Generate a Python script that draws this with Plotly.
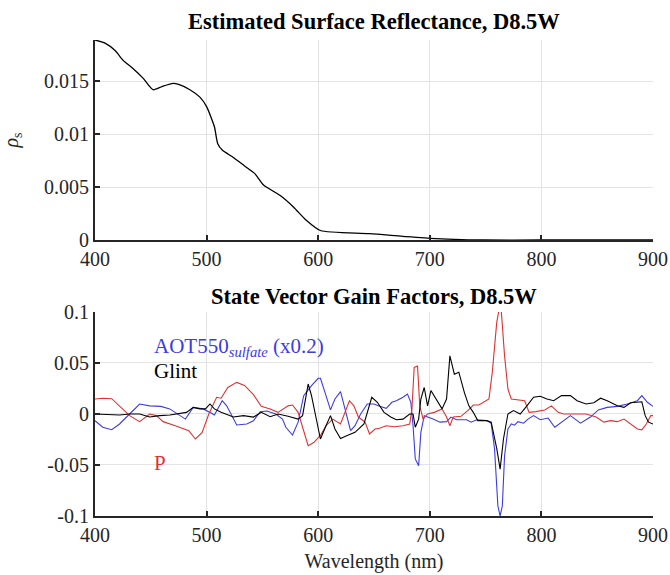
import plotly.graph_objects as go
from plotly.subplots import make_subplots

# ---- Top panel: estimated surface reflectance ----
wl_refl = [400, 409, 418, 425, 434, 443, 452, 460, 470, 475, 485, 494, 500, 507, 510, 514,
           524, 534, 543, 551, 566, 578, 589, 602, 646, 700, 748, 800, 900]
refl = [0.0189, 0.0186, 0.0179, 0.0170, 0.0162, 0.0153, 0.0142, 0.0145, 0.0148, 0.0147,
        0.0142, 0.0135, 0.0126, 0.0107, 0.0091, 0.0085, 0.0078, 0.0070, 0.0063, 0.0052,
        0.0042, 0.0031, 0.0019, 0.0009, 0.0006, 0.00016, 0.0, 0.0, 0.0]

# ---- Bottom panel: state vector gain factors ----
wl_aot = [400, 407, 415, 422, 431, 440, 449, 459, 467, 475, 481, 488, 497, 504, 507, 514, 518,
          527, 536, 542, 548, 554, 562, 568, 571, 577, 582, 587, 594, 600, 602, 607, 611, 615,
          620, 624, 629, 633, 638, 644, 650, 655, 661, 666, 670, 676, 680, 683, 685, 687, 690,
          692, 695, 703, 709, 715, 719, 724, 733, 737, 742, 751, 755, 758, 761, 763, 765, 767,
          770, 773, 776, 779, 784, 788, 793, 799, 806, 812, 818, 826, 835, 844, 851, 859, 868,
          877, 886, 890, 895, 900]
aot = [-0.0066, -0.013, -0.0154, -0.0098, 0.0, 0.0098, 0.008, 0.0075, 0.005, -0.001, -0.005,
       0.0065, 0.005, 0.001, -0.001, 0.013, 0.008, -0.0108, -0.0098, -0.0066, 0.0023, 0.003,
       0.0, -0.005, -0.013, -0.0206, -0.008, 0.018, 0.0278, 0.035, 0.035, 0.018, 0.004, 0.0147,
       0.022, 0.005, -0.0164, -0.0115, 0.0, 0.0098, 0.0098, 0.0075, 0.0056, 0.0115, 0.013,
       0.0164, 0.0196, 0.0115, -0.0115, -0.044, -0.0507, -0.018, -0.0016, -0.005, -0.008,
       -0.0075, -0.003, -0.0056, -0.0056, -0.008, -0.0056, -0.0065, -0.009, -0.034, -0.09,
       -0.1, -0.09, -0.041, -0.0147, -0.0098, -0.011, -0.0075, -0.009, -0.005, -0.0016,
       -0.0056, -0.004, -0.013, -0.008, -0.0016, -0.009, -0.003, 0.004, 0.0065, 0.0075,
       0.0098, 0.013, 0.018, 0.0115, 0.0075]

wl_glint = [400, 418, 422, 431, 440, 449, 458, 467, 475, 482, 488, 494, 499, 503, 507, 513,
            524, 533, 542, 549, 557, 564, 573, 582, 586, 591, 594, 600, 602, 607, 611, 615,
            620, 626, 633, 641, 644, 648, 653, 659, 665, 670, 676, 682, 685, 687, 690, 692,
            695, 698, 701, 707, 711, 715, 718, 722, 726, 731, 735, 739, 743, 751, 755, 760,
            763, 766, 770, 775, 781, 787, 793, 799, 805, 811, 818, 826, 832, 840, 847, 853,
            859, 868, 874, 880, 886, 890, 893, 896, 900]
glint = [0.0, -0.001, -0.001, 0.0, 0.0, -0.003, -0.0016, -0.001, 0.0007, 0.0016, 0.0065,
         0.005, 0.005, 0.0098, 0.005, 0.0016, -0.003, -0.0016, -0.003, 0.0016, -0.0026, 0.0,
         -0.0023, -0.005, -0.0016, 0.0294, 0.018, -0.0147, -0.0245, -0.0115, -0.0016, -0.0147,
         -0.024, -0.021, -0.018, -0.0098, 0.0016, 0.0164, 0.0115, 0.0016, -0.003, -0.0056,
         -0.005, 0.0, 0.0, -0.013, -0.005, 0.0147, 0.026, 0.008, 0.023, 0.0115, 0.005, 0.0147,
         0.057, 0.039, 0.041, 0.021, 0.008, 0.0016, -0.0065, -0.0065, -0.008, -0.034, -0.054,
         -0.0245, 0.0, 0.0033, 0.0, 0.008, 0.0164, 0.0174, 0.0147, 0.013, 0.018, 0.018, 0.013,
         0.0098, 0.011, 0.0155, 0.013, 0.008, 0.0065, 0.011, 0.0115, 0.012, -0.0016, -0.008,
         -0.0098]

wl_p = [400, 407, 415, 422, 431, 440, 449, 455, 461, 472, 484, 490, 496, 502, 509, 513, 519,
        527, 534, 542, 549, 557, 564, 573, 577, 582, 587, 591, 596, 602, 607, 613, 620, 624,
        628, 632, 636, 642, 646, 651, 655, 661, 668, 676, 682, 684, 686, 689, 691, 694, 698,
        704, 711, 715, 718, 721, 728, 734, 739, 744, 753, 756, 760, 762, 764, 767, 770, 773,
        779, 785, 789, 795, 803, 809, 815, 820, 826, 832, 840, 849, 856, 862, 868, 874, 880,
        886, 890, 894, 898, 900]
p = [0.0147, 0.0155, 0.015, 0.008, -0.0016, -0.0075, 0.0, -0.0016, -0.0075, -0.0115, -0.0164,
     -0.0245, -0.018, 0.0, 0.0164, 0.0155, 0.026, 0.031, 0.028, 0.019, 0.0075, 0.005, 0.0016,
     0.008, 0.0088, 0.0016, -0.018, -0.031, -0.028, -0.021, -0.0115, -0.005, -0.0098, 0.0016,
     0.013, 0.008, -0.003, -0.008, -0.0196, -0.0147, -0.014, -0.0115, -0.0125, -0.0115,
     -0.0098, 0.005, 0.0457, 0.047, 0.008, -0.005, 0.0, 0.0016, 0.005, -0.003, -0.0115,
     -0.003, -0.0023, 0.0033, 0.0088, 0.0088, 0.0147, 0.041, 0.09, 0.102, 0.102, 0.057,
     0.0245, 0.0147, 0.014, 0.013, 0.0016, 0.0023, 0.004, 0.008, 0.0016, 0.0, 0.0, 0.0, 0.0,
     -0.003, -0.008, -0.0065, -0.0075, -0.005, -0.0098, -0.0147, -0.0155, -0.0098, -0.0016,
     -0.0016]

x_ticks = [400, 500, 600, 700, 800, 900]
top_yticks = [0, 0.005, 0.01, 0.015]
top_ytext = ["0", "0.005", "0.01", "0.015"]
bot_yticks = [-0.1, -0.05, 0, 0.05, 0.1]
bot_ytext = ["-0.1", "-0.05", "0", "0.05", "0.1"]

BLUE = "rgb(60,60,225)"
RED = "rgb(220,50,50)"
BLACK = "black"
AX = "#262626"
GRID = "#e3e3e3"
FONT = "Liberation Serif, Times New Roman, serif"

fig = make_subplots(rows=2, cols=1, vertical_spacing=0.0)

fig.add_trace(go.Scatter(x=wl_refl, y=refl, mode="lines",
                         line=dict(color=BLACK, width=1.3, shape="spline", smoothing=0.6),
                         showlegend=False, hoverinfo="skip"), row=1, col=1)
fig.add_trace(go.Scatter(x=wl_aot, y=aot, mode="lines", line=dict(color=BLUE, width=1.1),
                         showlegend=False, hoverinfo="skip"), row=2, col=1)
fig.add_trace(go.Scatter(x=wl_p, y=p, mode="lines", line=dict(color=RED, width=1.1),
                         showlegend=False, hoverinfo="skip"), row=2, col=1)
fig.add_trace(go.Scatter(x=wl_glint, y=glint, mode="lines", line=dict(color=BLACK, width=1.1),
                         showlegend=False, hoverinfo="skip"), row=2, col=1)

common_x = dict(range=[400, 900], tickvals=x_ticks, showgrid=True, gridcolor=GRID, gridwidth=1,
                showline=True, linecolor=AX, linewidth=2, ticks="inside", ticklen=5, tickwidth=2,
                tickcolor=AX, tickfont=dict(family=FONT, size=20, color=AX), zeroline=False,
                automargin=False)
common_y = dict(showgrid=True, gridcolor=GRID, gridwidth=1, showline=True, linecolor=AX, linewidth=2,
                ticks="inside", ticklen=5, tickwidth=2, tickcolor=AX,
                tickfont=dict(family=FONT, size=20, color=AX), zeroline=False, automargin=False)

fig.update_layout(
    width=670, height=575,
    margin=dict(l=95, r=17, t=40, b=59),
    paper_bgcolor="white", plot_bgcolor="white",
    font=dict(family=FONT, size=20, color=AX),
    xaxis=dict(common_x, domain=[0, 1]),
    yaxis=dict(common_y, domain=[0.5798, 1.0], range=[0, 0.0189], tickvals=top_yticks,
               ticktext=top_ytext,
               title=dict(text="<i>ρ</i><sub>s</sub>", font=dict(family=FONT, size=20, color=AX),
                          standoff=22)),
    xaxis2=dict(common_x, domain=[0, 1],
                title=dict(text="Wavelength (nm)", font=dict(family=FONT, size=20, color=AX),
                           standoff=9)),
    yaxis2=dict(common_y, domain=[0, 0.4286], range=[-0.1, 0.1], tickvals=bot_yticks,
                ticktext=bot_ytext),
)

fig.add_annotation(text="<b>Estimated Surface Reflectance, D8.5W</b>", xref="paper", yref="paper",
                   x=0.5, y=1.0, yshift=19, showarrow=False, xanchor="center", yanchor="middle",
                   font=dict(family=FONT, size=22.5, color="black"))
fig.add_annotation(text="<b>State Vector Gain Factors, D8.5W</b>", xref="paper", yref="paper",
                   x=0.5, y=0.4286, yshift=15, showarrow=False, xanchor="center", yanchor="middle",
                   font=dict(family=FONT, size=22.5, color="black"))

fig.add_annotation(text="AOT550<sub><i>sulfate</i></sub> (x0.2)", x=451, y=0.066, xref="x2",
                   yref="y2", showarrow=False, xanchor="left", yanchor="middle",
                   font=dict(family=FONT, size=21, color=BLUE))
fig.add_annotation(text="Glint", x=451, y=0.042, xref="x2", yref="y2",
                   showarrow=False, xanchor="left", yanchor="middle",
                   font=dict(family=FONT, size=21, color="black"))
fig.add_annotation(text="P", x=451, y=-0.048, xref="x2", yref="y2",
                   showarrow=False, xanchor="left", yanchor="middle",
                   font=dict(family=FONT, size=21, color=RED))

fig.write_html("out.html", config={"displayModeBar": False},
               post_script="document.body.style.margin='0';")
